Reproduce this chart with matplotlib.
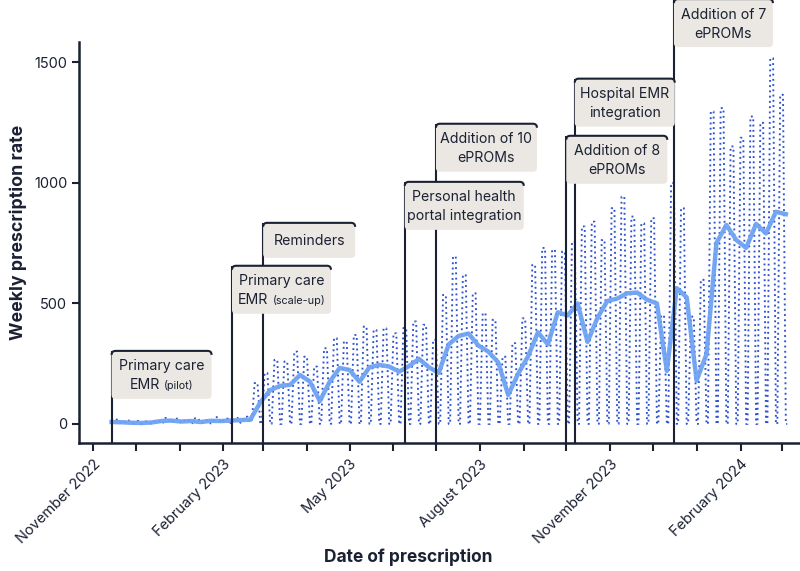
import matplotlib
matplotlib.use('Agg')
import matplotlib.pyplot as plt
import matplotlib.dates as mdates
import matplotlib.transforms as mtransforms
from matplotlib.patches import FancyBboxPatch, PathPatch
from matplotlib.path import Path
from matplotlib.offsetbox import TextArea, HPacker, VPacker, AnnotationBbox
import pandas as pd

plt.rcParams['font.family'] = ['Inter', 'DejaVu Sans']

INK = '#1b2133'
BOX = '#ebe8e3'
DOT = '#2d52cf'
SMOOTH = '#6ea2f2'

# daily series summarised per week: weekday level and weekend level
first_week = '2022-11-18'
weekday_peak = [18, 15, 12, 10, 14, 25, 22, 18, 24, 16, 28, 22, 25, 30,
                170, 211, 266, 259, 300, 279, 238, 314, 356, 342, 369, 404,
                390, 397, 376, 398, 425, 411, 349, 535, 694, 618, 542, 459,
                432, 279, 335, 438, 660, 730, 722, 715, 756, 819, 839, 763,
                895, 943, 860, 832, 853, 450, 999, 895, 445, 598, 1296, 1310,
                1151, 1187, 1275, 1249, 1517, 1365]
weekend_low = [2, 3, 0, 1, 2, 6, 5, 3, 4, 2, 6, 4, 5, 8] + [0] * 54

# smoothed trend, weekly from first Monday
smooth_start = '2022-11-14'
smoothed = [8, 7, 5, 4, 6, 12, 14, 10, 12, 8, 13, 12, 14, 16, 18, 90, 140,
            158, 162, 203, 176, 95, 175, 232, 224, 175, 235, 245, 238, 217,
            240, 270, 235, 212, 330, 365, 375, 325, 300, 255, 120, 208, 280,
            380, 330, 463, 450, 500, 340, 440, 510, 520, 542, 545, 515, 500,
            220, 563, 525, 180, 290, 750, 825, 763, 730, 830, 790, 880, 870]

event_dates = ['2022-11-14', '2023-02-07', '2023-03-01', '2023-06-09',
               '2023-07-01', '2023-10-01', '2023-10-07', '2023-12-16']
event_lines = [['Primary care', 'EMR', '(pilot)'],
               ['Primary care', 'EMR', '(scale-up)'],
               ['Reminders'],
               ['Personal health', 'portal integration'],
               ['Addition of 10', 'ePROMs'],
               ['Addition of 8', 'ePROMs'],
               ['Hospital EMR', 'integration'],
               ['Addition of 7', 'ePROMs']]
event_top = [303, 656, 834, 1004, 1245, 1195, 1432, 1762]
event_width = [100, 99, 92, 119, 101, 101, 100, 99]

month_ticks = pd.date_range('2022-11-01', '2024-03-01', freq='MS')
label_months = ['November 2022', 'February 2023', 'May 2023',
                'August 2023', 'November 2023', 'February 2024']

fig = plt.figure(figsize=(8, 5.71), dpi=100)
ax = fig.add_axes([79 / 800, 128 / 571, 721 / 800, 401 / 571])

weeks = pd.date_range(first_week, periods=len(weekday_peak), freq='7D')
days, vals = [], []
for d, hi, lo in zip(weeks, weekday_peak, weekend_low):
    days += [d - pd.Timedelta(days=1), d + pd.Timedelta(days=1),
             d + pd.Timedelta(days=3), d + pd.Timedelta(days=4)]
    vals += [hi, hi, lo, lo]
ax.plot(days, vals, color=DOT, lw=1.35, ls=(0, (1, 1.8)), zorder=2)

sweeks = pd.date_range(smooth_start, periods=len(smoothed), freq='7D')
ax.plot(sweeks, smoothed, color=SMOOTH, lw=3.2, alpha=0.95, zorder=3,
        solid_joinstyle='round')

ax.set_xlim(pd.Timestamp('2022-10-22'), pd.Timestamp('2024-03-14'))
ax.set_ylim(-79, 1584)
ax.set_yticks([0, 500, 1000, 1500])
ax.set_xticks(month_ticks)
ax.set_xticklabels([m.strftime('%B %Y') if m.strftime('%B %Y') in label_months else ''
                    for m in month_ticks],
                   rotation=45, ha='right', rotation_mode='anchor')
for s in ['top', 'right']:
    ax.spines[s].set_visible(False)
for s in ['left', 'bottom']:
    ax.spines[s].set_linewidth(1.8)
    ax.spines[s].set_color(INK)
ax.tick_params(length=5, width=1.5, color=INK, labelcolor=INK, labelsize=10.5)
ax.tick_params(axis='x', length=6, pad=4)

ax.set_ylabel('Weekly prescription rate', fontsize=12.8, fontweight='bold', color=INK)
ax.yaxis.set_label_coords(-0.072, 0.525)
ax.set_xlabel('Date of prescription', fontsize=12.5, fontweight='bold', color=INK)
ax.xaxis.set_label_coords(0.456, -0.262)

# event markers with label boxes (drawn in pixels)
ident = mtransforms.IdentityTransform()
ylo = ax.get_ylim()[0]
for date, lines, top, w in zip(event_dates, event_lines, event_top, event_width):
    d = pd.Timestamp(date)
    ax.plot([d, d], [ylo, top], color=INK, lw=1.5, zorder=4, clip_on=False,
            solid_capstyle='butt')
    x0, y0 = ax.transData.transform((mdates.date2num(d), top))
    h = 35 if len(lines) == 1 else 48
    fill = FancyBboxPatch((x0, y0 - h), w, h, boxstyle='round,pad=0,rounding_size=4',
                          facecolor=BOX, edgecolor='none', transform=ident, zorder=5)
    fig.add_artist(fill)
    r = 4
    verts = [(x0, y0 - r), (x0, y0), (x0 + r, y0), (x0 + w - r, y0),
             (x0 + w, y0), (x0 + w, y0 - r)]
    codes = [Path.MOVETO, Path.CURVE3, Path.CURVE3, Path.LINETO,
             Path.CURVE3, Path.CURVE3]
    fig.add_artist(PathPatch(Path(verts, codes), facecolor='none', edgecolor=INK,
                             lw=1.5, transform=ident, zorder=6))
    rows = [TextArea(lines[0], textprops=dict(fontsize=10.2, color=INK))]
    if len(lines) == 3:
        rows.append(HPacker(children=[TextArea(lines[1], textprops=dict(fontsize=10.2, color=INK)),
                                      TextArea(lines[2], textprops=dict(fontsize=7.8, color=INK))],
                            align='baseline', pad=0, sep=3))
    elif len(lines) == 2:
        rows.append(TextArea(lines[1], textprops=dict(fontsize=10.2, color=INK)))
    pack = VPacker(children=rows, align='center', pad=0, sep=3.5)
    ab = AnnotationBbox(pack, (x0 + w / 2, y0 - h / 2 - 1), xycoords='figure pixels',
                        frameon=False, box_alignment=(0.5, 0.5), pad=0, zorder=7)
    fig.add_artist(ab)

fig.savefig('out.png', dpi=100)
